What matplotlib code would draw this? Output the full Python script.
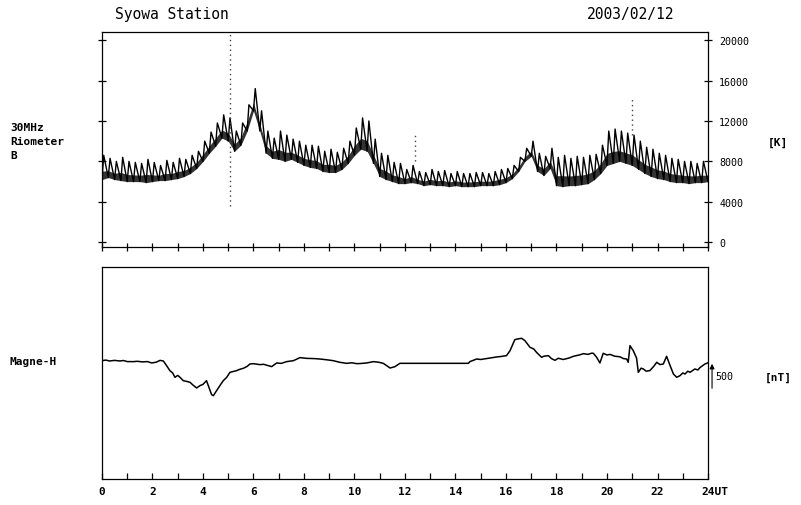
import numpy as np
import matplotlib
matplotlib.use("Agg")
import matplotlib.pyplot as plt

# --- riometer (30 MHz, K), quarter-hour trough / peak readings ---
rio_t = np.arange(0, 24.01, 0.25)
rio_lo = [6.2, 6.4, 6.2, 6.1, 6.0, 6.0, 6.0, 5.9, 6.0, 6.1, 6.1, 6.2,
          6.3, 6.5, 6.8, 7.3, 8.0, 8.8, 9.5, 10.3, 10.0, 9.0, 9.6, 11.0,
          13.0, 11.0, 8.8, 8.3, 8.2, 8.0, 8.2, 7.9, 7.6, 7.4, 7.3, 7.0,
          6.9, 6.9, 7.2, 7.8, 8.6, 9.2, 9.0, 7.8, 6.5, 6.2, 6.0, 5.8,
          5.8, 5.9, 5.8, 5.6, 5.7, 5.6, 5.6, 5.5, 5.6, 5.5, 5.5, 5.5,
          5.6, 5.6, 5.6, 5.7, 5.9, 6.3, 7.0, 8.0, 8.5, 7.0, 6.6, 7.3,
          5.6, 5.5, 5.6, 5.6, 5.7, 5.8, 6.2, 6.8, 7.6, 7.8, 8.0, 7.8,
          7.6, 7.2, 6.8, 6.5, 6.3, 6.2, 6.0, 5.9, 5.9, 5.8, 5.9, 5.9, 6.0]
rio_hi = [8.6, 8.3, 8.0, 8.4, 8.0, 7.9, 7.8, 8.2, 7.9, 7.6, 8.1, 7.9,
          8.3, 8.2, 8.6, 9.0, 10.0, 10.9, 11.8, 12.6, 12.3, 11.0, 11.8, 13.6,
          15.2, 13.0, 11.0, 10.3, 11.0, 10.6, 10.2, 10.0, 9.6, 9.6, 9.5, 9.0,
          9.2, 8.9, 9.3, 10.0, 11.3, 12.3, 12.0, 10.2, 8.8, 8.6, 7.9, 7.8,
          7.2, 7.6, 7.0, 6.9, 7.2, 7.0, 7.1, 6.8, 7.0, 6.8, 6.8, 6.9,
          6.9, 6.8, 7.0, 7.2, 7.3, 7.6, 8.4, 9.3, 10.0, 8.8, 8.5, 9.3,
          8.4, 8.6, 8.3, 8.5, 8.4, 8.6, 8.7, 9.6, 11.0, 11.2, 11.0, 10.8,
          10.6, 10.0, 9.4, 9.2, 8.8, 8.6, 8.3, 8.2, 8.0, 8.0, 7.8, 8.0, 7.8]
# isolated dotted glitches (hour, from K, to K)
glitch_t = [5.07, 12.4, 21.0]
glitch_from = [3.6, 8.0, 10.6]
glitch_to = [20.8, 10.9, 14.3]

# --- magnetometer H component (nT, relative) ---
mag_t = [0.0, 0.15, 0.3, 0.5, 0.71, 0.85, 1.0, 1.24, 1.4, 1.6, 1.8, 1.97,
         2.15, 2.3, 2.43, 2.56, 2.69, 2.8, 2.89, 3.0,
         3.09, 3.22, 3.35, 3.49, 3.6, 3.75, 3.88, 4.0, 4.14, 4.21, 4.34, 4.41,
         4.54, 4.67, 4.8, 4.94, 5.07, 5.2, 5.33, 5.45, 5.6, 5.75, 5.86, 6.0,
         6.26, 6.4, 6.52, 6.72, 6.92, 7.1, 7.31, 7.58, 7.84, 8.1, 8.4, 8.63,
         8.9, 9.16, 9.42, 9.69, 9.9, 10.09, 10.3, 10.48, 10.75, 10.95, 11.14,
         11.41, 11.6, 11.8, 14.51, 14.57, 14.7, 14.84, 15.0, 15.23, 15.4,
         15.63, 15.8, 16.02, 16.16, 16.35, 16.5, 16.62, 16.75, 16.95, 17.1,
         17.21, 17.41, 17.5, 17.68, 17.8, 17.94, 18.07, 18.27, 18.5, 18.67,
         18.9, 19.07, 19.25, 19.39, 19.46, 19.59, 19.72, 19.85, 20.0, 20.12,
         20.3, 20.51, 20.65, 20.78, 20.84, 20.91, 21.04, 21.17, 21.24, 21.35,
         21.44, 21.55, 21.70, 21.85, 21.97, 22.1, 22.23, 22.36, 22.50, 22.63,
         22.76, 22.89, 23.0, 23.09, 23.2, 23.29, 23.48, 23.6, 23.68, 23.88,
         24.0]
mag_h = [5, 15, 0, 10, 0, 8, -10, -11, -5, -15, -10, -33,
         -20, 10, 0, -78, -161, -200, -272, -240,
         -272, -328, -340, -356, -400, -450, -411, -390, -328, -411, -560, -578,
         -494, -411, -330, -272, -189, -175, -161, -140, -122, -90, -50, -45,
         -61, -55, -70, -94, -33, -40, -11, 5, 56, 44, 40, 33,
         20, 5, -22, -39, -30, -45, -40, -33, -11, -20, -39,
         -117, -95, -39, -39, -11, 10, 33, 25, 40, 50,
         67, 75, 89, 172, 356, 370, 378, 339, 228, 200,
         144, 61, 80, 89, 40, 11, 45, 25, 50, 78,
         100, 122, 110, 130, 128, 61, -33, 128, 100, 110,
         80, 70, 40, 33, -22, 256, 172, 50, -189, -120,
         -133, -170, -160, -90, -22, -60, -50, 78, -78, -217,
         -272, -245, -200, -217, -170, -189, -133, -150, -110, -50,
         -30]

hours = np.arange(0, 25)
hour_labels = [str(h) if h % 2 == 0 else "" for h in hours[:-1]] + [""]
rio_ticks = [0, 4000, 8000, 12000, 16000, 20000]

mono = "DejaVu Sans Mono"
plt.rcParams["font.family"] = mono

fig = plt.figure(figsize=(8.01, 5.06), dpi=100)
ax1 = fig.add_axes([0.1273, 0.5099, 0.7566, 0.4249])
ax2 = fig.add_axes([0.1273, 0.0514, 0.7566, 0.4190])

# riometer: zigzag between troughs and peaks, plus a dark core band
lo = np.array(rio_lo) * 1000
hi = np.array(rio_hi) * 1000
zig_t = np.empty(2 * len(rio_t) - 1)
zig_v = np.empty_like(zig_t)
zig_t[0::2] = rio_t
zig_v[0::2] = lo
zig_t[1::2] = rio_t[:-1] + 0.07
zig_v[1::2] = hi[:-1]
ax1.fill_between(rio_t, lo, lo + 0.35 * (hi - lo), color="#333333", lw=0)
ax1.plot(zig_t, zig_v, color="black", lw=1.0)
for gt, g0, g1 in zip(glitch_t, glitch_from, glitch_to):
    ax1.plot([gt, gt], [g0 * 1000, g1 * 1000], color="#444444",
             lw=1.0, ls=(0, (1, 2.5)))

ax1.set_xlim(0, 24)
ax1.set_ylim(-470, 20800)
ax1.set_xticks(hours)
ax1.set_xticklabels([])
ax1.tick_params(axis="x", direction="inout", length=6, width=0.9)
ax1.set_yticks(rio_ticks)
ax1.tick_params(axis="y", direction="inout", length=6, width=0.9,
                left=True, right=True, labelleft=False, labelright=True,
                labelsize=7.2, pad=5)
for s in ax1.spines.values():
    s.set_linewidth(0.9)

ax2.plot(mag_t, mag_h, color="black", lw=1.1)
ax2.set_xlim(0, 24)
ax2.set_ylim(-1967, 1567)
ax2.set_xticks(hours)
ax2.set_xticklabels(hour_labels, fontsize=8, fontweight="bold")
ax2.tick_params(axis="x", direction="in", length=4, width=0.9, pad=5)
ax2.set_yticks([])
for s in ax2.spines.values():
    s.set_linewidth(0.9)
# last hour label, "24" centred on its tick with the unit trailing
ax2.annotate("24UT", xy=(hours[-1], 0), xycoords=("data", "axes fraction"),
             xytext=(-5, -5), textcoords="offset points", ha="left",
             va="top", fontsize=8, fontweight="bold", annotation_clip=False)

# 500 nT scale arrow
ax2.annotate("", xy=(24.16, 0), xytext=(24.16, -500),
             arrowprops=dict(arrowstyle="-|>", color="black", lw=0.8,
                             mutation_scale=7),
             annotation_clip=False)
ax2.text(24.3, -250, "500", fontsize=7.2, va="center", ha="left",
         clip_on=False)

fig.text(115 / 801, 1 - 14 / 506, "Syowa Station", fontsize=10.5,
         va="center", ha="left")
fig.text(587 / 801, 1 - 14 / 506, "2003/02/12", fontsize=10.5,
         va="center", ha="left")
fig.text(10 / 801, 1 - 142 / 506, "30MHz\nRiometer\nB", fontsize=8,
         fontweight="bold", va="center", ha="left", linespacing=1.45)
fig.text(768 / 801, 1 - 143 / 506, "[K]", fontsize=8, fontweight="bold",
         va="center", ha="left")
fig.text(10 / 801, 1 - 362 / 506, "Magne-H", fontsize=8, fontweight="bold",
         va="center", ha="left")
fig.text(765 / 801, 1 - 378 / 506, "[nT]", fontsize=8, fontweight="bold",
         va="center", ha="left")

fig.savefig("out.png", dpi=100)
